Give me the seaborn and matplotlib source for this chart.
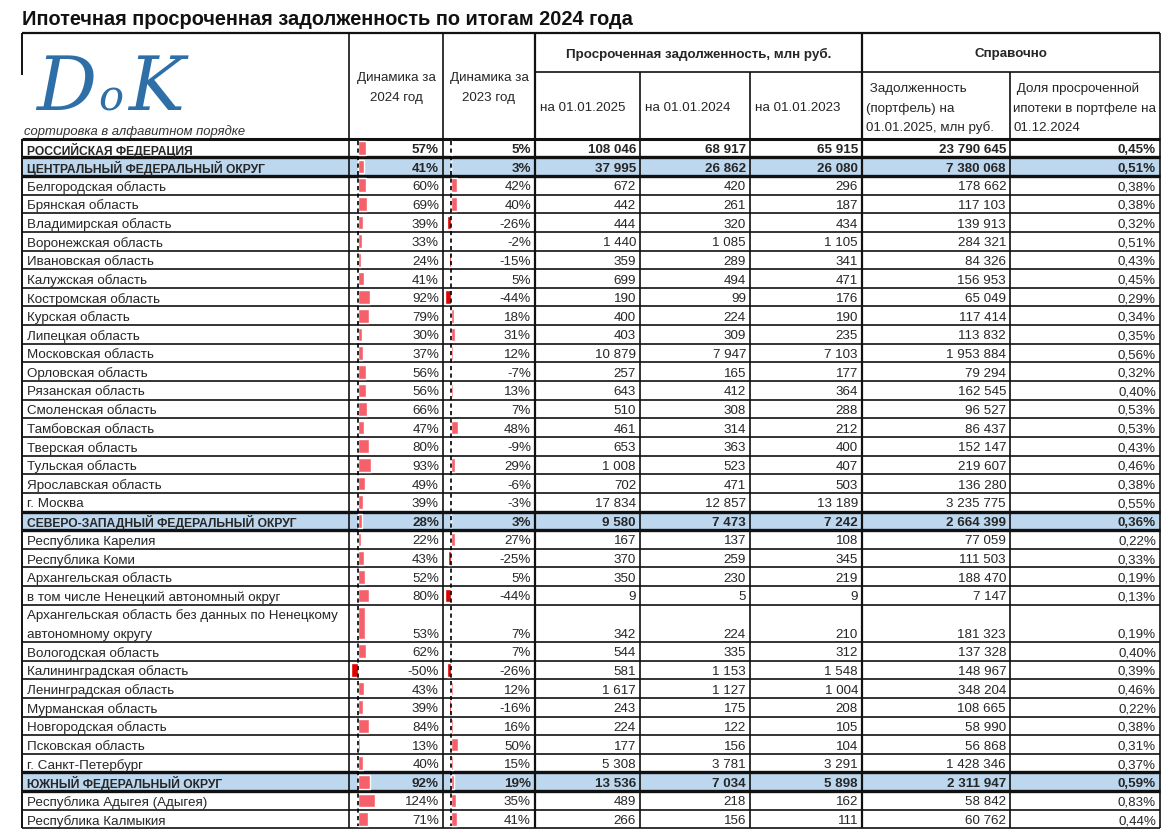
import numpy as np
import matplotlib
matplotlib.use("Agg")
import matplotlib.pyplot as plt
import seaborn as sns
from matplotlib.patches import Rectangle

sns.set_theme(style="white")
plt.rcParams['font.family'] = ['Liberation Sans', 'DejaVu Sans']

# table data
names = [
    "РОССИЙСКАЯ ФЕДЕРАЦИЯ", "ЦЕНТРАЛЬНЫЙ ФЕДЕРАЛЬНЫЙ ОКРУГ",
    "Белгородская область", "Брянская область", "Владимирская область",
    "Воронежская область", "Ивановская область", "Калужская область",
    "Костромская область", "Курская область", "Липецкая область",
    "Московская область", "Орловская область", "Рязанская область",
    "Смоленская область", "Тамбовская область", "Тверская область",
    "Тульская область", "Ярославская область", "г. Москва",
    "СЕВЕРО-ЗАПАДНЫЙ ФЕДЕРАЛЬНЫЙ ОКРУГ", "Республика Карелия",
    "Республика Коми", "Архангельская область",
    "в том числе Ненецкий автономный округ",
    "Архангельская область без данных по Ненецкому\nавтономному округу",
    "Вологодская область", "Калининградская область",
    "Ленинградская область", "Мурманская область", "Новгородская область",
    "Псковская область", "г. Санкт-Петербург", "ЮЖНЫЙ ФЕДЕРАЛЬНЫЙ ОКРУГ",
    "Республика Адыгея (Адыгея)", "Республика Калмыкия",
]
dyn24 = [57, 41, 60, 69, 39, 33, 24, 41, 92, 79, 30, 37, 56, 56, 66, 47, 80, 93, 49, 39,
         28, 22, 43, 52, 80, 53, 62, -50, 43, 39, 84, 13, 40, 92, 124, 71]
dyn23 = [5, 3, 42, 40, -26, -2, -15, 5, -44, 18, 31, 12, -7, 13, 7, 48, -9, 29, -6, -3,
         3, 27, -25, 5, -44, 7, 7, -26, 12, -16, 16, 50, 15, 19, 35, 41]
debt2025 = [108046, 37995, 672, 442, 444, 1440, 359, 699, 190, 400, 403, 10879, 257, 643,
            510, 461, 653, 1008, 702, 17834, 9580, 167, 370, 350, 9, 342, 544, 581, 1617,
            243, 224, 177, 5308, 13536, 489, 266]
debt2024 = [68917, 26862, 420, 261, 320, 1085, 289, 494, 99, 224, 309, 7947, 165, 412,
            308, 314, 363, 523, 471, 12857, 7473, 137, 259, 230, 5, 224, 335, 1153, 1127,
            175, 122, 156, 3781, 7034, 218, 156]
debt2023 = [65915, 26080, 296, 187, 434, 1105, 341, 471, 176, 190, 235, 7103, 177, 364,
            288, 212, 400, 407, 503, 13189, 7242, 108, 345, 219, 9, 210, 312, 1548, 1004,
            208, 105, 104, 3291, 5898, 162, 111]
portfolio = [23790645, 7380068, 178662, 117103, 139913, 284321, 84326, 156953, 65049,
             117414, 113832, 1953884, 79294, 162545, 96527, 86437, 152147, 219607, 136280,
             3235775, 2664399, 77059, 111503, 188470, 7147, 181323, 137328, 148967, 348204,
             108665, 58990, 56868, 1428346, 2311947, 58842, 60762]
share = [0.45, 0.51, 0.38, 0.38, 0.32, 0.51, 0.43, 0.45, 0.29, 0.34, 0.35, 0.56, 0.32,
         0.40, 0.53, 0.53, 0.43, 0.46, 0.38, 0.55, 0.36, 0.22, 0.33, 0.19, 0.13, 0.19,
         0.40, 0.39, 0.46, 0.22, 0.38, 0.31, 0.37, 0.59, 0.83, 0.44]
bold_rows = [0, 1, 20, 33]
district_rows = [1, 20, 33]

title = "Ипотечная просроченная задолженность по итогам 2024 года"

# layout (pixels)
W, H = 1172, 837
cols = [22, 349, 443, 535, 640, 750, 862, 1010, 1160]
head_top, head_mid, body_top = 34, 73, 139.7
pitch = 18.64
spans = [2 if "\n" in n else 1 for n in names]
tops = body_top + pitch * np.concatenate([[0], np.cumsum(spans)[:-1]])
bottoms = tops + pitch * np.array(spans)
body_bottom = bottoms[-1]

fig = plt.figure(figsize=(W / 100, H / 100), dpi=100)
ax = fig.add_axes([0, 0, 1, 1])
ax.set_xlim(0, W)
ax.set_ylim(H, 0)
ax.axis('off')

fs = 9.6
fs_bold_name = 8.7
blue = "#bdd7ee"

ax.text(22, 19, title, fontsize=14.4, fontweight='bold', va='center', ha='left', color='#111111')

# district row backgrounds
for i in district_rows:
    ax.add_patch(Rectangle((cols[0], tops[i]), cols[-1] - cols[0], bottoms[i] - tops[i],
                           facecolor=blue, edgecolor='none', zorder=0))

# logo
logo_c = "#2f6fa7"
ax.text(36, 110, "D", fontsize=54, family='DejaVu Serif', style='italic', color=logo_c, va='baseline')
ax.text(98, 110, "o", fontsize=30, family='DejaVu Serif', style='italic', color=logo_c, va='baseline')
ax.text(128, 110, "K", fontsize=54, family='DejaVu Serif', style='italic', color=logo_c, va='baseline')
ax.text(24, 132, "сортировка в алфавитном порядке", fontsize=9.4, style='italic',
        color='#333333', va='center')

# header texts
for c, yr in [(1, "2024"), (2, "2023")]:
    cx = (cols[c] + cols[c + 1]) / 2
    ax.text(cx, 78, "Динамика за", fontsize=fs, ha='center', va='center')
    ax.text(cx, 98, yr + " год", fontsize=fs, ha='center', va='center')
ax.text((cols[3] + cols[6]) / 2, 54, "Просроченная задолженность, млн руб.", fontsize=fs,
        fontweight='bold', ha='center', va='center')
ax.text((cols[6] + cols[8]) / 2, 54, "Справочно", fontsize=fs, fontweight='bold',
        ha='center', va='center')
for c, d in [(3, "2025"), (4, "2024"), (5, "2023")]:
    ax.text(cols[c] + 5, 108, "на 01.01." + d, fontsize=fs, ha='left', va='center')
for k, s in enumerate([" Задолженность", "(портфель) на", "01.01.2025, млн руб."]):
    ax.text(cols[6] + 4, 89 + 19.5 * k, s, fontsize=fs, ha='left', va='center')
for k, s in enumerate([" Доля просроченной", "ипотеки в портфеле на", "01.12.2024"]):
    ax.text(cols[7] + 3, 89 + 19.5 * k, s, fontsize=fs, ha='left', va='center')


def fmt_num(v):
    return f"{v:,}".replace(",", " ")


# body texts
for i, n in enumerate(names):
    bold = i in bold_rows
    fw = 'bold' if bold else 'normal'
    for k, line in enumerate(n.split("\n")):
        ax.text(cols[0] + 5, tops[i] + pitch * (k + 0.5) + 1, line,
                fontsize=fs_bold_name if bold else fs, fontweight=fw, ha='left', va='center')
    yc = bottoms[i] - pitch / 2 + 1
    vals = [f"{dyn24[i]}%", f"{dyn23[i]}%", fmt_num(debt2025[i]), fmt_num(debt2024[i]),
            fmt_num(debt2023[i]), fmt_num(portfolio[i]), f"{share[i]:.2f}%".replace(".", ",")]
    for c, s in enumerate(vals):
        ax.text(cols[c + 2] - 4, yc, s, fontsize=fs, fontweight=fw, ha='right', va='center')

# grid lines
lc = "#111111"
ax.hlines(head_top, cols[0], cols[-1], color=lc, lw=1.6)
ax.hlines(head_mid, cols[3], cols[-1], color=lc, lw=1.2)
ax.hlines(body_top, cols[0], cols[-1], color=lc, lw=2.2)
for i in range(len(names)):
    thick = i in district_rows or (i + 1) in district_rows
    ax.hlines(bottoms[i], cols[0], cols[-1], color=lc, lw=2.4 if thick else 1.2)
ax.vlines(cols[0], head_top, 76, color=lc, lw=1.4)
ax.vlines(cols[0], body_top, body_bottom, color=lc, lw=1.4)
for x in [cols[1], cols[2], cols[3], cols[6], cols[8]]:
    ax.vlines(x, head_top, body_bottom, color=lc, lw=1.6 if x in (cols[3], cols[6]) else 1.2)
for x in [cols[4], cols[5], cols[7]]:
    ax.vlines(x, head_mid, body_bottom, color=lc, lw=1.2)

# data bars for the two dynamics columns
centers = (tops + bottoms) / 2
heights = bottoms - tops - 5
bar_cols = [(1, dyn24, 358, 0.135), (2, dyn23, 451, 0.14)]
for c, vals, zero_px, px_per in bar_cols:
    x0, x1 = cols[c], cols[c + 1]
    bax = fig.add_axes([x0 / W, 0, (x1 - x0) / W, 1], sharey=ax)
    bax.set_xlim(-(zero_px - x0) / px_per, (x1 - zero_px) / px_per)
    bax.set_ylim(H, 0)
    bax.patch.set_alpha(0)
    bax.axis('off')
    v = np.array(vals)
    colors = np.where(v >= 0, "#f6606a", "#e00000")
    bax.barh(centers, v, height=heights, color=colors, zorder=2)
    bax.vlines(0, body_top + 2, body_bottom - 2, color='black', lw=1.2,
               linestyles=(0, (2.5, 2)), zorder=3)

fig.savefig("out.png", dpi=100)
